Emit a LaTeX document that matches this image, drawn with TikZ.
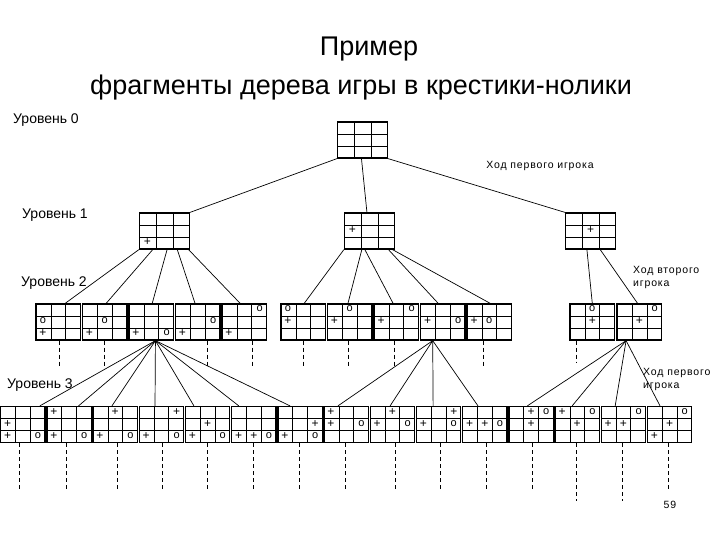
\documentclass[tikz,border=0pt]{standalone}
\usepackage{fontspec}
\setmainfont{Liberation Sans}
\newfontfamily\notefont[LetterSpace=8]{Liberation Sans}
\usetikzlibrary{positioning, calc}

\tikzset{
  board/.style={
    draw, line width=1.3pt, inner sep=0pt, minimum width=#1, minimum height=36,
    path picture={
      \foreach \k in {1,2} {
        \draw[line width=0.6pt]
          ($(path picture bounding box.north west)!\k/3!(path picture bounding box.north east)$) --
          ($(path picture bounding box.south west)!\k/3!(path picture bounding box.south east)$);
        \draw[line width=0.6pt]
          ($(path picture bounding box.north west)!\k/3!(path picture bounding box.south west)$) --
          ($(path picture bounding box.north east)!\k/3!(path picture bounding box.south east)$);
      }
    }
  },
  board/.default=44.6,
  edge/.style={line width=0.7pt},
  cont/.style={line width=0.7pt, dash pattern=on 4pt off 3pt},
  xo/.style={inner sep=0pt},
  lvl/.style={font=\fontsize{14}{16}\selectfont, anchor=west, inner sep=0pt},
  note/.style={font=\notefont\fontsize{10.5}{13}\selectfont, align=left, inner sep=0pt},
  headline/.style={font=\fontsize{27}{31}\selectfont, inner sep=0pt}
}

% cell marks: board, column, row
\newcommand{\plusat}[3]{\node[xo, font=\fontsize{12}{12}\selectfont]
  at ($(#1.north west)!{(#2+0.5)/3}!(#1.north east) + (0,{(#3+0.5)*12})$) {+};}
\newcommand{\ringat}[3]{\node[xo, font=\fontsize{11}{11}\selectfont]
  at ($(#1.north west)!{(#2+0.5)/3}!(#1.north east) + (0,{(#3+0.5)*12-0.5})$) {o};}

\begin{document}
\begin{tikzpicture}[x=1pt, y=-1pt]
  \useasboundingbox (0,0) rectangle (720,540);

  % title
  \node[headline] (t1) at (369,49) {Пример};
  \node[headline] (t2) at (361,88) {фрагменты дерева игры в крестики-нолики};

  % level labels
  \node[lvl] (lv0) at (13,120) {Уровень 0};
  \node[lvl] (lv1) at (22,215) {Уровень 1};
  \node[lvl] (lv2) at (21,283) {Уровень 2};
  \node[lvl] (lv3) at (7,385) {Уровень 3};
  \node[note] (mv1) at (540,166) {Ход первого игрока};
  \node[note, anchor=west] (mv2) at (633,277) {Ход второго\\игрока};
  \node[note, anchor=west] (mv3) at (643,379) {Ход первого\\игрока};
  \node[note] (pg) at (670,505) {59};

  % level 0 and 1
  \node[board=50] (L0) at (362.5,140) {};
  \node[board=50] (L1a) at (164.5,231) {};
  \node[board=50] (L1b) at (369.5,231) {};
  \node[board=50] (L1c) at (590.5,231) {};
  \plusat{L1a}{0}{2}
  \plusat{L1b}{0}{1}
  \plusat{L1c}{1}{1}

  % level 2
  \node[board] (L2a) at (58.3,322) {};
  \node[board, right=0.6pt of L2a] (L2b) {};
  \node[board, right=0.6pt of L2b] (L2c) {};
  \node[board, right=0.6pt of L2c] (L2d) {};
  \node[board, right=0.6pt of L2d] (L2e) {};
  \node[board] (L2f) at (303.3,322) {};
  \node[board, right=0.6pt of L2f] (L2g) {};
  \node[board, right=0.6pt of L2g] (L2h) {};
  \node[board, right=0.6pt of L2h] (L2i) {};
  \node[board, right=0.6pt of L2i] (L2j) {};
  \node[board] (L2k) at (592.3,322) {};
  \node[board, right=1.2pt of L2k] (L2l) {};

  \ringat{L2a}{0}{1} \plusat{L2a}{0}{2}
  \ringat{L2b}{1}{1} \plusat{L2b}{0}{2}
  \plusat{L2c}{0}{2} \ringat{L2c}{2}{2}
  \plusat{L2d}{0}{2} \ringat{L2d}{2}{1}
  \plusat{L2e}{0}{2} \ringat{L2e}{2}{0}
  \ringat{L2f}{0}{0} \plusat{L2f}{0}{1}
  \ringat{L2g}{1}{0} \plusat{L2g}{0}{1}
  \plusat{L2h}{0}{1} \ringat{L2h}{2}{0}
  \plusat{L2i}{0}{1} \ringat{L2i}{2}{1}
  \plusat{L2j}{0}{1} \ringat{L2j}{1}{1}
  \ringat{L2k}{1}{0} \plusat{L2k}{1}{1}
  \plusat{L2l}{1}{1} \ringat{L2l}{2}{0}

  % level 3
  \node[board=44.3] (L3-0) at (22.8,424.5) {};
  \foreach \i [remember=\i as \j (initially 0)] in {1,...,14}
    \node[board=44.3, right=0.6pt of L3-\j] (L3-\i) {};

  \foreach \b/\pa/\pb/\pc/\pd/\oc/\orow in {
      0/0/1/0/2/2/2, 1/0/0/0/2/2/2, 2/1/0/0/2/2/2, 3/2/0/0/2/2/2, 4/1/1/0/2/2/2,
      5/0/2/1/2/2/2, 6/0/2/2/1/2/2, 7/0/0/0/1/2/1, 8/1/0/0/1/2/1, 9/2/0/0/1/2/1,
      10/0/1/1/1/2/1, 11/1/0/1/1/2/0, 12/0/0/1/1/2/0, 13/0/1/1/1/2/0, 14/0/2/1/1/2/0} {
    \plusat{L3-\b}{\pa}{\pb}
    \plusat{L3-\b}{\pc}{\pd}
    \ringat{L3-\b}{\oc}{\orow}
  }

  % level 0 -> 1
  \draw[edge] (L0.south west) -- (L1a.north east);
  \draw[edge] ($(L0.south west)!0.48!(L0.south east)$) -- ($(L1b.north west)!0.45!(L1b.north east)$);
  \draw[edge] (L0.south east) -- (L1c.north west);

  % level 1 -> 2
  \foreach \f/\c/\t in {0/a/.65, .27/b/.53, .55/c/.52, .75/d/.44, .97/e/.41}
    \draw[edge] ($(L1a.south west)!\f!(L1a.south east)$) -- ($(L2\c.north west)!\t!(L2\c.north east)$);
  \foreach \f/\c/\t in {0/f/.52, .35/g/.46, .41/h/.43, .87/i/.40, .95/j/.52}
    \draw[edge] ($(L1b.south west)!\f!(L1b.south east)$) -- ($(L2\c.north west)!\t!(L2\c.north east)$);
  \foreach \f/\c/\t in {.43/k/.5, .69/l/.46}
    \draw[edge] ($(L1c.south west)!\f!(L1c.south east)$) -- ($(L2\c.north west)!\t!(L2\c.north east)$);

  % level 2 -> 3
  \foreach \c/\t in {0/.875, 1/.71, 2/.43, 3/.36, 4/.2, 5/.17, 6/.28}
    \draw[edge] ($(L2c.south west)!.59!(L2c.south east)$) -- ($(L3-\c.north west)!\t!(L3-\c.north east)$);
  \foreach \c/\t in {7/.32, 8/.45, 9/.38, 10/.35}
    \draw[edge] ($(L2i.south west)!.28!(L2i.south east)$) -- ($(L3-\c.north west)!\t!(L3-\c.north east)$);
  \foreach \c/\t in {11/.42, 12/.39, 13/.32, 14/.29}
    \draw[edge] ($(L2l.south west)!.21!(L2l.south east)$) -- ($(L3-\c.north west)!\t!(L3-\c.north east)$);

  % unexpanded branches
  \foreach \c/\f in {a/.52, b/.49, d/.71, e/.68, f/.5, g/.46, h/.45, j/.38}
    \draw[cont] ($(L2\c.south west)!\f!(L2\c.south east)$) -- ++(0,27);
  \draw[cont] ($(L2k.south west)!.15!(L2k.south east)$) -- ++(0,22);
  \foreach \c/\f/\len in {0/.42/48, 1/.44/48, 2/.55/48, 3/.52/48, 4/.49/48, 5/.49/48,
      6/.48/48, 7/.48/48, 8/.57/48, 9/.54/48, 10/.53/48, 11/.53/48, 12/.48/58,
      13/.48/58, 14/.47/48}
    \draw[cont] ($(L3-\c.south west)!\f!(L3-\c.south east)$) -- ++(0,\len);
\end{tikzpicture}
\end{document}
